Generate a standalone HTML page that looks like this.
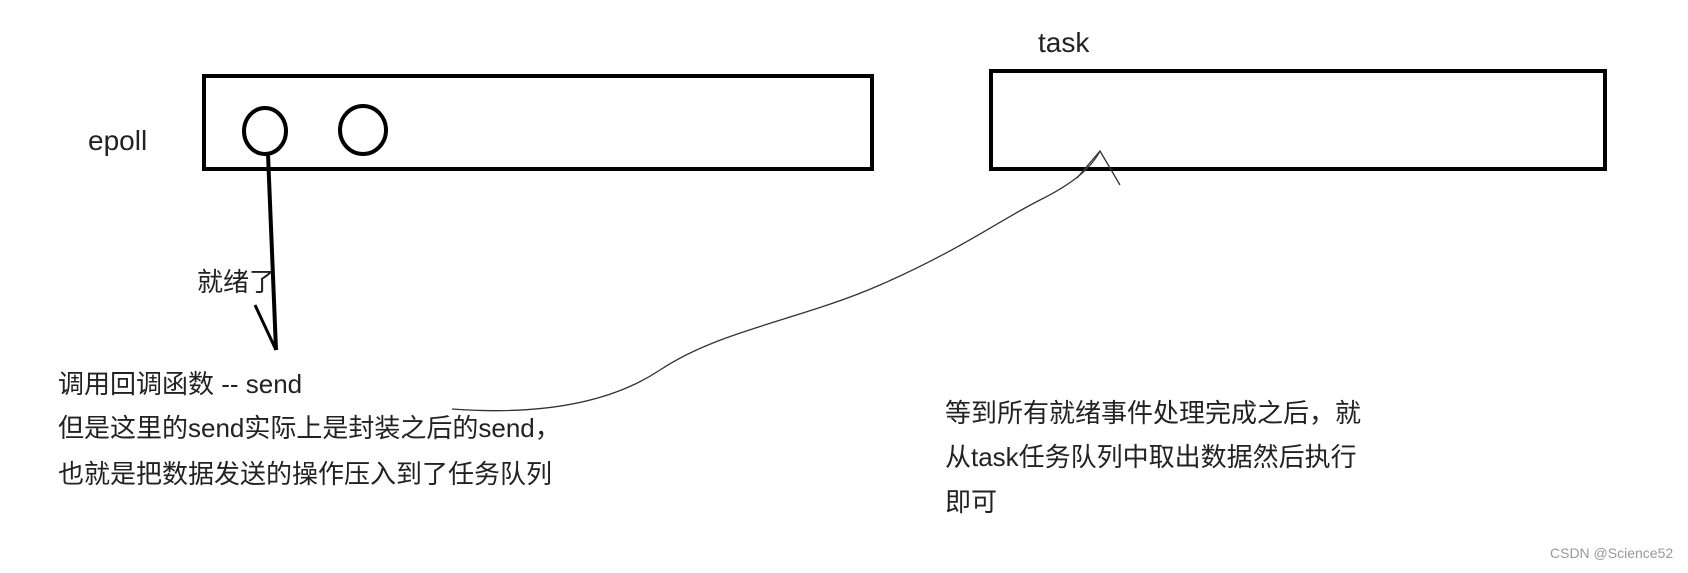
<!DOCTYPE html>
<html><head><meta charset="utf-8"><style>
body{margin:0;width:1688px;height:573px;background:#fff;overflow:hidden;position:relative;font-family:"Liberation Sans","Noto Sans CJK SC",sans-serif;color:#222}
.t{position:absolute;font-size:26px;white-space:nowrap;line-height:1}
</style></head><body>
<svg width="1688" height="573" style="position:absolute;left:0;top:0">
<rect x="204" y="76" width="668" height="93" fill="none" stroke="#000" stroke-width="4"/>
<rect x="991" y="71" width="614" height="98" fill="none" stroke="#000" stroke-width="4"/>
<ellipse cx="265" cy="131" rx="21" ry="23" fill="none" stroke="#000" stroke-width="4"/>
<ellipse cx="363" cy="130" rx="23" ry="24" fill="none" stroke="#000" stroke-width="4"/>
<path d="M268 154 L276 350" fill="none" stroke="#000" stroke-width="4"/>
<path d="M255 305 L276 350" fill="none" stroke="#000" stroke-width="3"/>
<path d="M452 409 C520 414 600 410 660 370 C720 330 800 320 880 285 C960 250 1000 220 1040 200 C1070 185 1090 170 1100 151" fill="none" stroke="#333" stroke-width="1.3"/>
<path d="M1077 178 L1100 151 L1120 185" fill="none" stroke="#333" stroke-width="1.3"/>
</svg>
<div class="t" style="left:88px;top:127px;font-size:28px">epoll</div>
<div class="t" style="left:1038px;top:29px;font-size:28px">task</div>
<div class="t" style="left:197px;top:269px">就绪了</div>
<div class="t" style="left:58px;top:371px">调用回调函数 -- send</div>
<div class="t" style="left:58px;top:415px">但是这里的send实际上是封装之后的send，</div>
<div class="t" style="left:58px;top:461px">也就是把数据发送的操作压入到了任务队列</div>
<div class="t" style="left:945px;top:400px">等到所有就绪事件处理完成之后，就</div>
<div class="t" style="left:945px;top:444px">从task任务队列中取出数据然后执行</div>
<div class="t" style="left:945px;top:489px">即可</div>
<div class="t" style="left:1550px;top:546px;font-size:14px;color:#999">CSDN @Science52</div>
</body></html>
